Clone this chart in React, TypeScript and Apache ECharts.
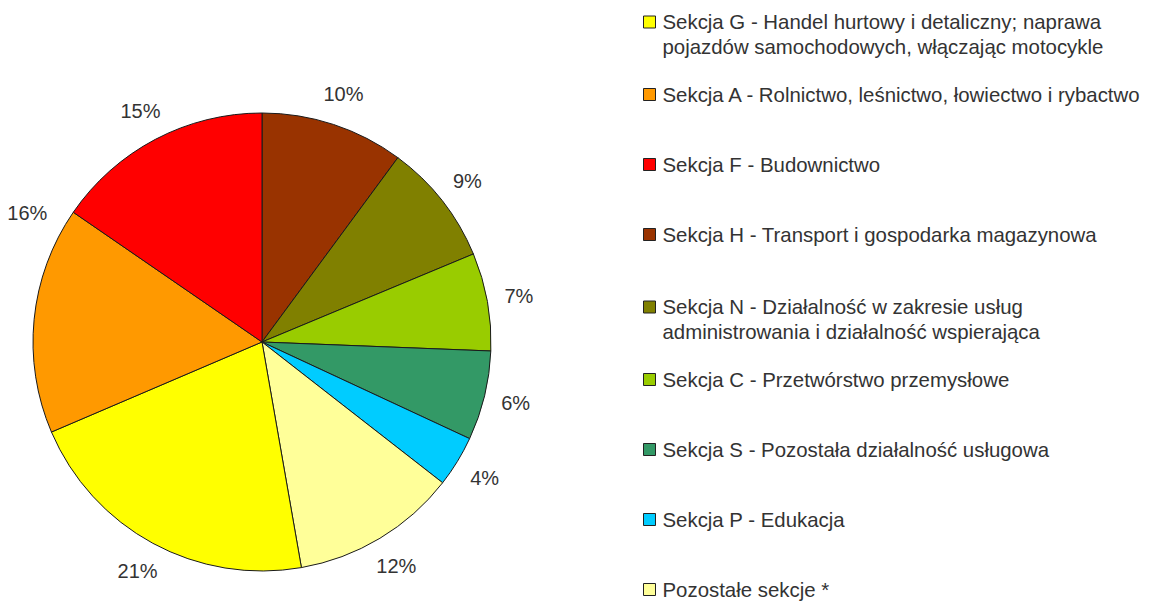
import React, { useEffect, useRef } from "react";
import * as echarts from "echarts";

// Slices in clockwise order starting at 12 o'clock
const sliceNames: string[] = [
  "Sekcja H - Transport i gospodarka magazynowa",
  "Sekcja N - Działalność w zakresie usług\nadministrowania i działalność wspierająca",
  "Sekcja C - Przetwórstwo przemysłowe",
  "Sekcja S - Pozostała działalność usługowa",
  "Sekcja P - Edukacja",
  "Pozostałe sekcje *",
  "Sekcja G - Handel hurtowy i detaliczny; naprawa\npojazdów samochodowych, włączając motocykle",
  "Sekcja A - Rolnictwo, leśnictwo, łowiectwo i rybactwo",
  "Sekcja F - Budownictwo",
];
const sliceValues: number[] = [10.1, 8.6, 6.9, 6.3, 3.6, 11.7, 21.3, 16.0, 15.4];
const sliceColors: string[] = [
  "#993300",
  "#808000",
  "#99CC00",
  "#339966",
  "#00CCFF",
  "#FFFF99",
  "#FFFF00",
  "#FF9900",
  "#FF0000",
];
// Legend order
const legendOrder: string[] = [
  "Sekcja G - Handel hurtowy i detaliczny; naprawa\npojazdów samochodowych, włączając motocykle",
  "Sekcja A - Rolnictwo, leśnictwo, łowiectwo i rybactwo",
  "Sekcja F - Budownictwo",
  "Sekcja H - Transport i gospodarka magazynowa",
  "Sekcja N - Działalność w zakresie usług\nadministrowania i działalność wspierająca",
  "Sekcja C - Przetwórstwo przemysłowe",
  "Sekcja S - Pozostała działalność usługowa",
  "Sekcja P - Edukacja",
  "Pozostałe sekcje *",
];

const FONT = "'Liberation Sans', Arial, Helvetica, sans-serif";
const LINE_H = 25;
const ITEM_H = 70;

export default function App() {
  const ref = useRef<HTMLDivElement>(null);
  useEffect(() => {
    if (!ref.current) return;
    const chart = echarts.init(ref.current, null, { renderer: "svg" });
    const data = sliceNames.map((n, i) => ({
      name: n,
      value: sliceValues[i],
      itemStyle: { color: sliceColors[i] },
    }));
    const labelData = sliceNames.map((n, i) => ({ name: n, value: sliceValues[i] }));
    const padSingle = (ITEM_H - LINE_H) / 2;
    const legendData = legendOrder.map((n) => ({
      name: n,
      textStyle: {
        padding: n.indexOf("\n") >= 0 ? [0, 0, 0, 2] : [padSingle, 0, padSingle, 2],
      },
    }));
    const nudgeIndex = sliceNames.indexOf("Sekcja A - Rolnictwo, leśnictwo, łowiectwo i rybactwo");
    chart.setOption({
      animation: false,
      backgroundColor: "#ffffff",
      legend: {
        orient: "vertical",
        left: 643,
        top: -15.5,
        height: 720,
        padding: 0,
        itemGap: 0,
        itemWidth: 12,
        itemHeight: 12,
        icon: "rect",
        selectedMode: false,
        data: legendData,
        formatter: (name: string) => (name.indexOf("\n") >= 0 ? "\n" + name : name),
        itemStyle: { borderColor: "#222", borderWidth: 1 },
        textStyle: {
          fontFamily: FONT,
          fontSize: 20.4,
          lineHeight: LINE_H,
          color: "#333",
        },
      },
      series: [
        {
          type: "pie",
          center: [262, 342],
          radius: [0, 229],
          startAngle: 90,
          clockwise: true,
          silent: true,
          data,
          itemStyle: { borderColor: "#1a1a1a", borderWidth: 1 },
          label: { show: false },
          labelLine: { show: false },
        },
        {
          type: "pie",
          center: [262, 342],
          radius: [246, 270],
          startAngle: 90,
          clockwise: true,
          silent: true,
          data: labelData,
          itemStyle: { color: "rgba(0,0,0,0)", borderWidth: 0 },
          label: {
            show: true,
            position: "inside",
            fontFamily: FONT,
            fontSize: 20,
            color: "#333",
            formatter: (p: any) => Math.round(p.value) + "%",
          },
          labelLine: { show: false },
          labelLayout: (p: any) =>
            p.dataIndex === nudgeIndex ? { dx: 25, dy: -103 } : {},
        },
      ],
    });
    return () => chart.dispose();
  }, []);
  return (
    <div
      ref={ref}
      style={{ position: "fixed", left: 0, top: 0, width: 1150, height: 603 }}
    />
  );
}
